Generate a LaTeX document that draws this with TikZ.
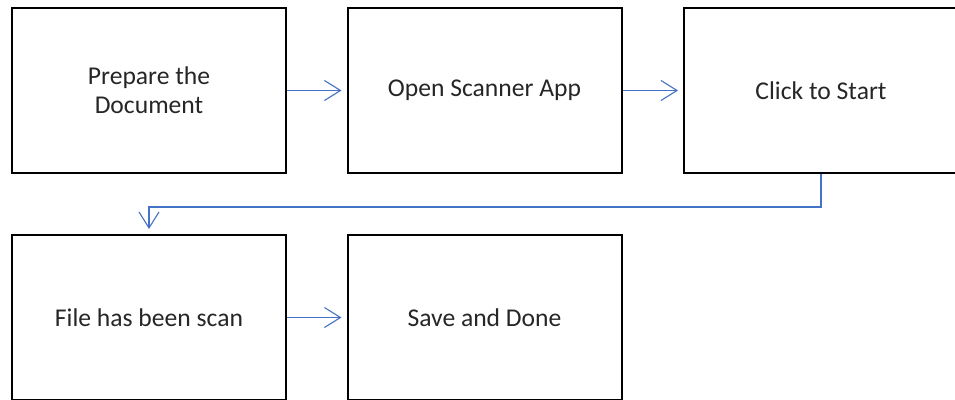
\documentclass[tikz,border=0pt]{standalone}
\usepackage{fontspec}
\setmainfont{Carlito}
\usetikzlibrary{arrows.meta}
\definecolor{flowblue}{HTML}{4472C4}
\begin{document}
\begin{tikzpicture}[x=1pt,y=-1pt,
  stepbox/.style={draw=black, line width=2pt, minimum width=274pt,
    minimum height=165pt, inner sep=0pt, align=center,
    font=\fontsize{25.6pt}{29pt}\selectfont, text=black!85},
  flow/.style={draw=flowblue, line width=1.1pt,
    -{Straight Barb[length=16pt,width=20pt,line width=1.1pt]},
    shorten >=5pt}]
\useasboundingbox (0,0) rectangle (955,399);
\clip (0,0) rectangle (955,399);
% first row
\node[stepbox] (prep)  at (149,90.5)  {Prepare the\\Document};
\node[stepbox] (open)  at (484.5,90.5) {Open Scanner App};
\node[stepbox] (click) at (821,90.5)  {Click to Start};
% second row
\node[stepbox] (file)  at (149,317.5)  {File has been scan};
\node[stepbox] (save)  at (484.5,317.5) {Save and Done};
% connectors
\draw[flow] (prep.east) -- (open.west);
\draw[flow] (open.east) -- (click.west);
\draw[flow] (click.south) -- ++(0,33) -| (file.north);
\draw[flow] (file.east) -- (save.west);
\end{tikzpicture}
\end{document}
